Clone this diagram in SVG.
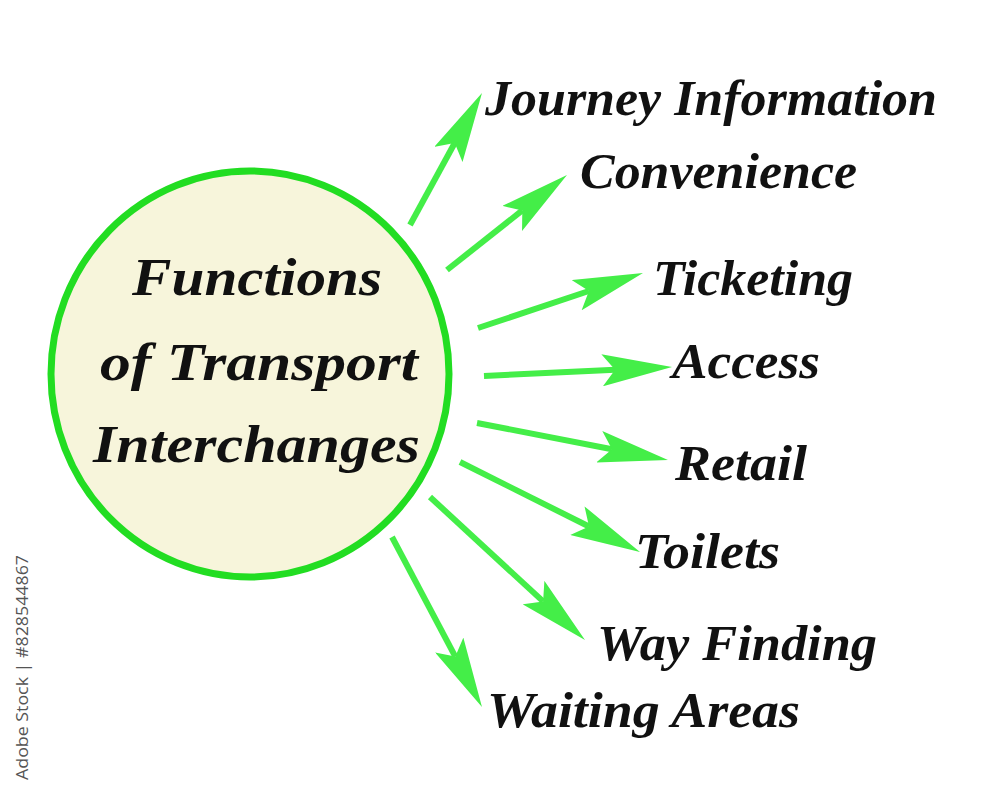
<svg xmlns="http://www.w3.org/2000/svg" width="1000" height="796" viewBox="0 0 1000 796">
  <style>
    .lbl { font-family: "Liberation Serif", "Times New Roman", serif; font-style: italic; font-weight: bold; font-size: 51px; fill: #111; }
    .ctr { font-family: "Liberation Serif", "Times New Roman", serif; font-style: italic; font-weight: bold; font-size: 53px; fill: #111; }
    .arrow { stroke: #44ee48; stroke-width: 6; fill: none; marker-end: url(#head); }
    .wm { font-family: "Open Sans", "DejaVu Sans", sans-serif; font-size: 17px; fill: #555; }
  </style>
  <defs>
    <marker id="head" markerUnits="userSpaceOnUse" viewBox="0 0 70 32" markerWidth="70" markerHeight="32" refX="13" refY="16" orient="auto">
      <path d="M0,0 L70,16 L0,32 L13,16 Z" fill="#44ee48"/>
    </marker>
  </defs>
  <rect width="1000" height="796" fill="#ffffff"/>

  <g id="center">
    <ellipse cx="250" cy="374" rx="199" ry="203" fill="#f7f5db" stroke="#22dd22" stroke-width="7"/>
    <text class="ctr" x="132" y="295" textLength="250" lengthAdjust="spacingAndGlyphs">Functions</text>
    <text class="ctr" x="100" y="380" textLength="318" lengthAdjust="spacingAndGlyphs">of Transport</text>
    <text class="ctr" x="93" y="462" textLength="327" lengthAdjust="spacingAndGlyphs">Interchanges</text>
  </g>

  <g id="connectors">
    <line class="arrow" x1="410" y1="225" x2="454.7" y2="143.0"/>
    <line class="arrow" x1="447" y1="270" x2="522.3" y2="210.4"/>
    <line class="arrow" x1="478" y1="328" x2="588.9" y2="291.0"/>
    <line class="arrow" x1="484" y1="376" x2="615.1" y2="369.7"/>
    <line class="arrow" x1="477" y1="423" x2="612.0" y2="449.2"/>
    <line class="arrow" x1="460" y1="462" x2="589.0" y2="526.5"/>
    <line class="arrow" x1="430" y1="497" x2="543.1" y2="601.4"/>
    <line class="arrow" x1="392" y1="537" x2="455.3" y2="656.6"/>
  </g>

  <g id="journey"><text class="lbl" x="485" y="115" textLength="452" lengthAdjust="spacingAndGlyphs">Journey Information</text></g>
  <g id="convenience"><text class="lbl" x="580" y="188" textLength="277" lengthAdjust="spacingAndGlyphs">Convenience</text></g>
  <g id="ticketing"><text class="lbl" x="653" y="295" textLength="200" lengthAdjust="spacingAndGlyphs">Ticketing</text></g>
  <g id="access"><text class="lbl" x="672" y="378" textLength="148" lengthAdjust="spacingAndGlyphs">Access</text></g>
  <g id="retail"><text class="lbl" x="675" y="480" textLength="132" lengthAdjust="spacingAndGlyphs">Retail</text></g>
  <g id="toilets"><text class="lbl" x="635" y="568" textLength="145" lengthAdjust="spacingAndGlyphs">Toilets</text></g>
  <g id="wayfinding"><text class="lbl" x="597" y="660" textLength="280" lengthAdjust="spacingAndGlyphs">Way Finding</text></g>
  <g id="waiting"><text class="lbl" x="487" y="727" textLength="313" lengthAdjust="spacingAndGlyphs">Waiting Areas</text></g>

  <g id="watermark">
    <text class="wm" transform="translate(28,780) rotate(-90)" textLength="225" lengthAdjust="spacingAndGlyphs">Adobe Stock | #828544867</text>
  </g>
</svg>
